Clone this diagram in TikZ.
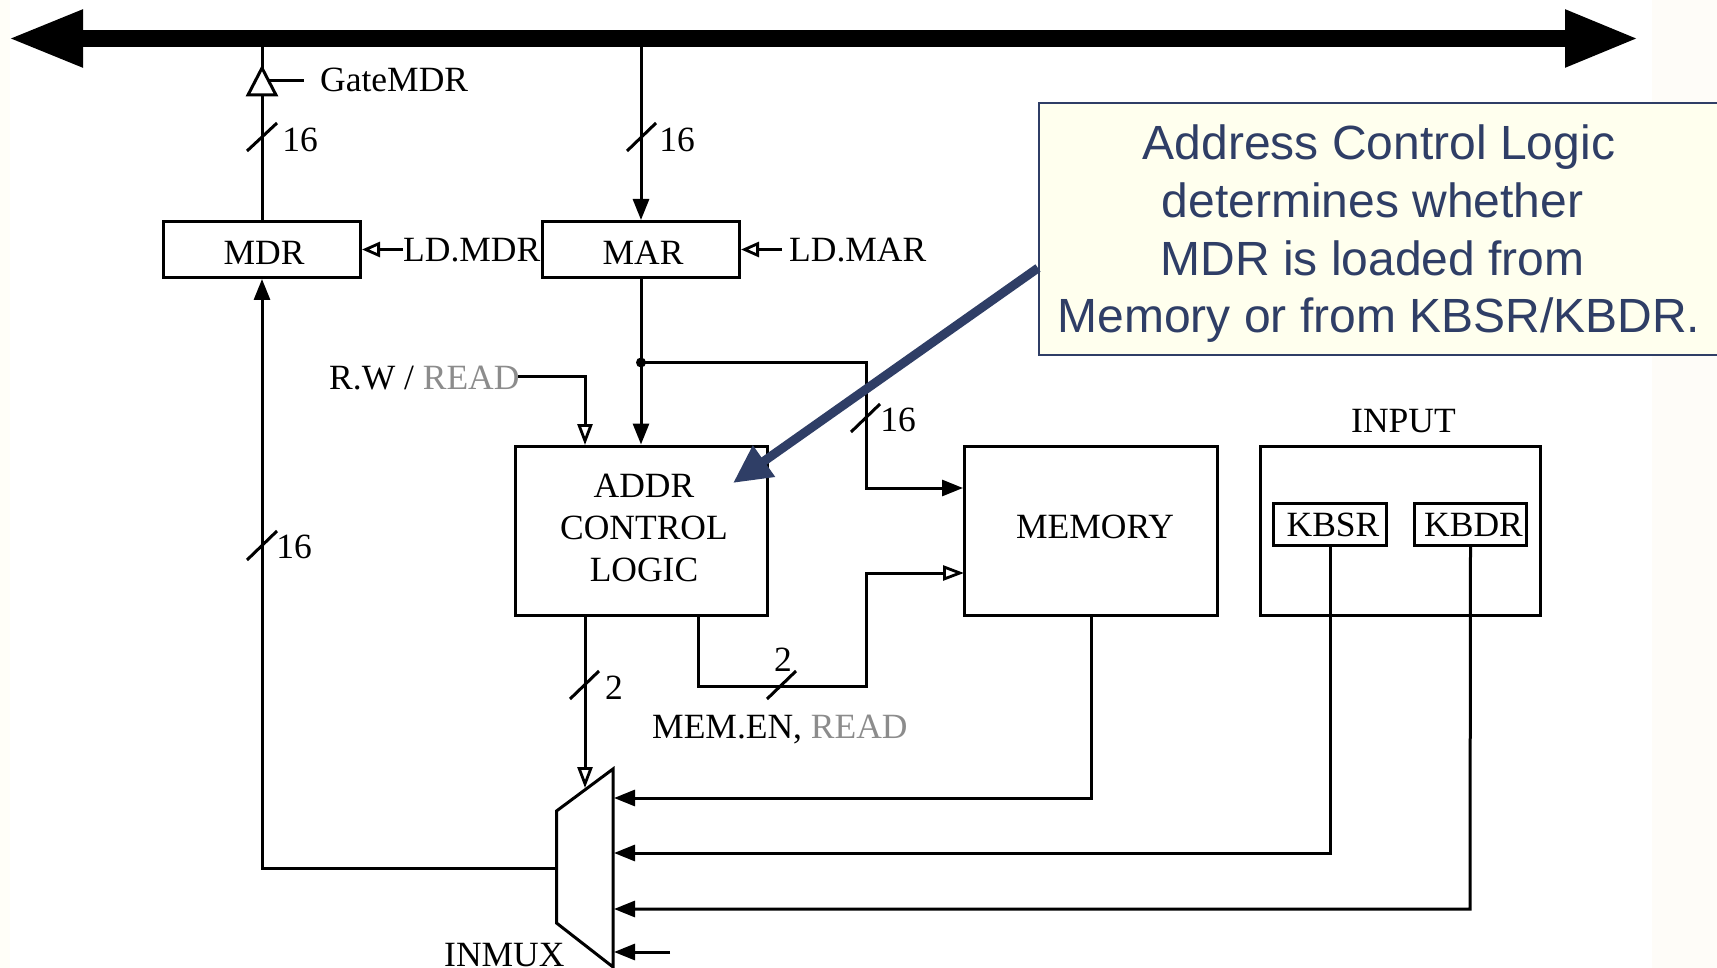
\documentclass[tikz,border=0pt]{standalone}
\usepackage{fontspec}
\setmainfont{Liberation Serif}
\newfontfamily\calloutfont{Liberation Sans}
\usetikzlibrary{arrows.meta}
\definecolor{callink}{HTML}{2F3E66}
\definecolor{callfill}{HTML}{FFFFEE}
\definecolor{readgray}{HTML}{8C8C8C}
\definecolor{edgeL}{HTML}{FFFEF8}
\definecolor{edgeR}{HTML}{FEFCF8}
\tikzset{
  wire/.style={line width=3pt,line cap=butt,line join=miter,draw=black},
  solidhead/.style={wire,-{Triangle[length=21pt,width=16pt]}},
  openhead/.style={wire,-{Triangle[open,length=21pt,width=15pt,line width=2.8pt]}},
  openside/.style={wire,-{Triangle[open,length=18pt,width=15pt,line width=2.8pt]}},
  boxed/.style={draw=black,line width=3pt,inner sep=0pt,font=\fontsize{35.5}{42}\selectfont},
  lab/.style={inner sep=0pt,anchor=base west,font=\fontsize{35.5}{42}\selectfont},
  num/.style={inner sep=0pt,anchor=center,font=\fontsize{35.5}{42}\selectfont},
}
\begin{document}
\begin{tikzpicture}[x=1pt,y=-1pt]
\useasboundingbox (0,0) rectangle (1717,968);
\fill[white] (0,0) rectangle (1717,968);
\fill[edgeL] (0,0) rectangle (10,968);
\fill[edgeR] (1652,0) rectangle (1717,968);

% bus
\coordinate (busL) at (8,38.5);
\coordinate (busR) at (1639,38.5);
\draw[line width=17pt,{Triangle[length=75pt,width=53pt]}-{Triangle[length=74pt,width=53pt]}] (busL) -- (busR);
\coordinate (tapMDR) at (262,46);
\coordinate (tapMAR) at (641,46);

% boxes
\node[boxed,minimum width=197pt,minimum height=56pt,text height=31pt,text depth=0pt] (mdr) at (262,249.5) {\hspace*{4pt}MDR};
\node[boxed,minimum width=197pt,minimum height=56pt,text height=31pt,text depth=0pt] (mar) at (641,249.5) {\hspace*{4pt}MAR};
\node[boxed,minimum width=252pt,minimum height=169pt] (addr) at (641.5,530.5) {};
\node[inner sep=0pt,align=center,font=\fontsize{35.5}{42}\selectfont] (addrtext) at (644,528) {ADDR\\CONTROL\\LOGIC};
\node[boxed,minimum width=253pt,minimum height=169pt,text height=15pt,text depth=0pt] (memory) at (1091,530.5) {\hspace*{8pt}MEMORY};
\node[boxed,minimum width=280pt,minimum height=169pt] (input) at (1400,530.5) {};
\node[boxed,minimum width=113pt,minimum height=42pt,text height=24pt,text depth=0pt] (kbsr) at (1330,524) {\hspace*{6pt}KBSR};
\node[boxed,minimum width=112pt,minimum height=42pt,text height=24pt,text depth=0pt] (kbdr) at (1470.5,524) {\hspace*{6pt}KBDR};

% mux
\coordinate (muxTR) at (613,769);
\coordinate (muxTL) at (556.5,811);
\coordinate (muxBL) at (556.5,923);
\coordinate (muxBR) at (613,967);
\draw[wire,line join=miter] (muxTR) -- (muxTL) -- (muxBL) -- (muxBR) -- cycle;
\coordinate (muxOut) at (556,868);
\coordinate (muxSel) at (585,788);
\coordinate (muxA) at (614,798);
\coordinate (muxB) at (614,853);
\coordinate (muxC) at (614,909);
\coordinate (muxD) at (614,952);
\coordinate (muxDfree) at (670,952);

% tristate
\coordinate (triTop) at (262,68);
\coordinate (triL) at (248,95);
\coordinate (triR) at (276,95);
\draw[wire] (tapMDR |- mdr.north) -- (tapMDR);
\draw[wire,fill=white] (triTop) -- (triL) -- (triR) -- cycle;
\coordinate (gateIn) at (269,81);
\coordinate (gateFree) at (304,81);
\draw[wire] (gateIn) -- (gateFree);
\node[lab] (gatelab) at (320,92) {GateMDR};

% MAR input
\draw[solidhead] (tapMAR) -- (mar.north);
\node[num] (n16a) at (300,140) {16};
\node[num] (n16b) at (677,140) {16};
\draw[wire] (247,151) -- (277,123);
\draw[wire] (627,151) -- (656,123);

% LD labels
\node[lab] (ldmdr) at (403,262) {LD.MDR};
\node[lab] (ldmar) at (789,262) {LD.MAR};
\draw[openside] (ldmdr.west |- mdr.east) -- (mdr.east);
\draw[openside] (782,249.5) -- (mar.east);

% MAR down
\coordinate (dot) at (641,362.5);
\draw[solidhead] (mar.south) -- (dot) -- (dot |- addr.north);
\fill (dot) circle (5pt);
\coordinate (memCorner) at (866,362.5);
\coordinate (memInA) at (866,488);
\draw[solidhead] (dot) -- (memCorner) -- (memInA) -- (memInA -| memory.west);
\draw[wire] (851,432) -- (880,404);
\node[num] (n16c) at (898,420) {16};

% R.W
\node[lab] (rw) at (329,389) {R.W / \textcolor{readgray}{READ}};
\coordinate (rwOut) at (518,376.5);
\coordinate (rwCorner) at (585,376.5);
\coordinate (rwIn) at (585,445);
\draw[openhead] (rwOut) -- (rwCorner) -- (rwIn);

% MDR input
\coordinate (mdrCorner) at (262,868);
\draw[solidhead] (muxOut) -- (mdrCorner) -- (mdr.south);
\draw[wire] (247,560) -- (277,531);
\node[num] (n16d) at (294,547) {16};

% addr outputs
\coordinate (addrSel) at (585,615);
\draw[openhead] (addrSel) -- (muxSel);
\draw[wire] (570,699) -- (599,671);
\node[num] (n2a) at (614,688) {2};
\coordinate (addrMem) at (698,615);
\coordinate (cA) at (698,686);
\coordinate (cB) at (866,686);
\coordinate (memInB) at (866,573);
\draw[openhead] (addrMem) -- (cA) -- (cB) -- (memInB) -- ([xshift=1pt]memInB -| memory.west);
\draw[wire] (767,699) -- (796,671);
\node[num] (n2b) at (783,660) {2};
\node[lab] (memen) at (652,738) {MEM.EN, \textcolor{readgray}{READ}};

% inputs to mux
\coordinate (memOut) at (1091,798);
\draw[solidhead] (memory.south) -- (memOut) -- (muxA);
\coordinate (kbsrOut) at (1330,853);
\draw[solidhead] (kbsr.south) -- (kbsrOut) -- (muxB);
\coordinate (kbdrOut) at (1470,909);
\draw[solidhead] (kbdr.south) -- (kbdrOut) -- (muxC);
\draw[solidhead] (muxDfree) -- (muxD);
\node[lab,text depth=0pt] (inmux) at (444,966) {INMUX};
\node[lab] (inputlab) at (1351,432) {INPUT};

% callout
\node[draw=callink,line width=1.6pt,fill=callfill,inner sep=0pt,minimum width=700pt,minimum height=252pt,anchor=north west] (callout) at (1038,102.5) {};
\node[text=callink,inner sep=0pt,align=center,anchor=center,font=\calloutfont\fontsize{48}{57.7}\selectfont] (calltext) at (1379,234) {Address Control Logic\\determines whether\kern13pt\\MDR is loaded from\kern13pt\\Memory or from KBSR/KBDR.};
\coordinate (calloutOut) at (1038,268);
\coordinate (calloutTip) at (733,483);
\draw[draw=callink,line width=9pt,-{Triangle[length=38pt,width=36pt]}] (calloutOut) -- (calloutTip);
\end{tikzpicture}
\end{document}
